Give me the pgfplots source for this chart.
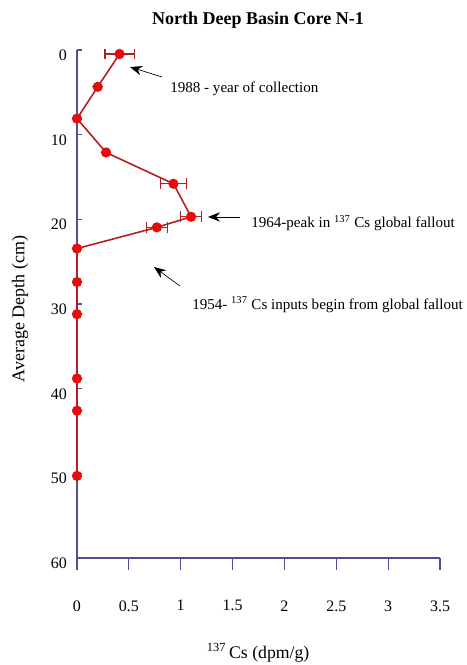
\documentclass[border=0pt]{standalone}
\usepackage{pgfplots}
\pgfplotsset{compat=1.18}
\usepackage{fontspec}
\setmainfont{Liberation Serif}
\usetikzlibrary{arrows.meta,calc}
\definecolor{axcol}{RGB}{80,80,150}
\definecolor{linecol}{RGB}{180,32,32}
\definecolor{markcol}{RGB}{228,12,12}
\begin{document}
\begin{tikzpicture}
\begin{axis}[
  scale only axis, width=272.25pt, height=381pt,
  xmin=0, xmax=3.5, ymin=0, ymax=60, y dir=reverse,
  axis lines*=left,
  axis line style={axcol, line width=0.8pt},
  xtick={0,0.5,1,1.5,2,2.5,3,3.5},
  ytick={0,10,20,30,40,50,60},
  xtick align=outside, ytick align=inside,
  xtick style={axcol, line width=0.8pt, /pgfplots/major tick length=9pt},
  ytick style={axcol, line width=0.8pt, /pgfplots/major tick length=4pt},
  /pgf/number format/assume math mode=true,
  ticklabel style={font=\fontsize{12}{14}\selectfont},
  xticklabel style={yshift=-24pt},
  yticklabel style={xshift=-4pt, yshift=-4pt},
  xticklabels={0,0.5,1,1.5,2,2.5,3,3.5},
  clip=false,
  xlabel={\textsuperscript{137}\,Cs (dpm/g)},
  xlabel style={font=\fontsize{13.3}{15}\selectfont, at={(axis description cs:0.499,-0.187)}, anchor=center},
  ylabel={Average Depth (cm)},
  ylabel style={font=\fontsize{13.5}{15}\selectfont, at={(axis description cs:-0.157,0.49)}, anchor=center},
]
\addplot[color=linecol, line width=1.2pt, mark=*, mark size=3.2pt,
  mark options={fill=markcol, draw=markcol, solid},
  error bars/.cd, x dir=both, x explicit,
  error bar style={linecol, line width=0.8pt},
  error mark options={linecol, mark size=4pt, line width=0.8pt, rotate=90}]
table[x=x, y=y, x error=ex] {
x y ex
0.41 0.47 0.14
0.20 4.35 0
0.00 8.1 0
0.28 12.1 0
0.93 15.8 0.125
1.10 19.7 0.1
0.77 20.95 0.1
0 23.45 0
0 27.4 0
0 31.2 0
0 38.8 0
0 42.6 0
0 50.3 0
};
\node[anchor=base, inner sep=0pt, font=\bfseries\fontsize{13.5}{16}\selectfont] at (axis cs:1.745,-3.07) {North Deep Basin Core N-1};
\draw[-{Stealth[length=9pt,width=7pt]}, line width=0.5pt] (axis cs:0.82,3.19) -- (axis cs:0.511,2.01);
\node[anchor=base west, inner sep=0pt, font=\fontsize{11.3}{13}\selectfont] at (axis cs:0.897,5.04) {1988 - year of collection};
\draw[-{Stealth[length=9pt,width=7pt]}, line width=0.5pt] (axis cs:1.572,19.72) -- (axis cs:1.263,19.72);
\node[anchor=base west, inner sep=0pt, font=\fontsize{11.3}{13}\selectfont] at (axis cs:1.678,20.99) {1964-peak in \textsuperscript{137} Cs global fallout};
\draw[-{Stealth[length=9pt,width=7pt]}, line width=0.5pt] (axis cs:0.993,27.87) -- (axis cs:0.742,25.63);
\node[anchor=base west, inner sep=0pt, font=\fontsize{11.3}{13}\selectfont] at (axis cs:1.109,30.6) {1954- \textsuperscript{137} Cs inputs begin from global fallout};
\end{axis}
\pgfresetboundingbox
\useasboundingbox ($(current axis.south west)+(-57.75pt,-80.25pt)$) rectangle ($(current axis.north east)+(19.5pt,37.5pt)$);
\end{tikzpicture}
\end{document}
